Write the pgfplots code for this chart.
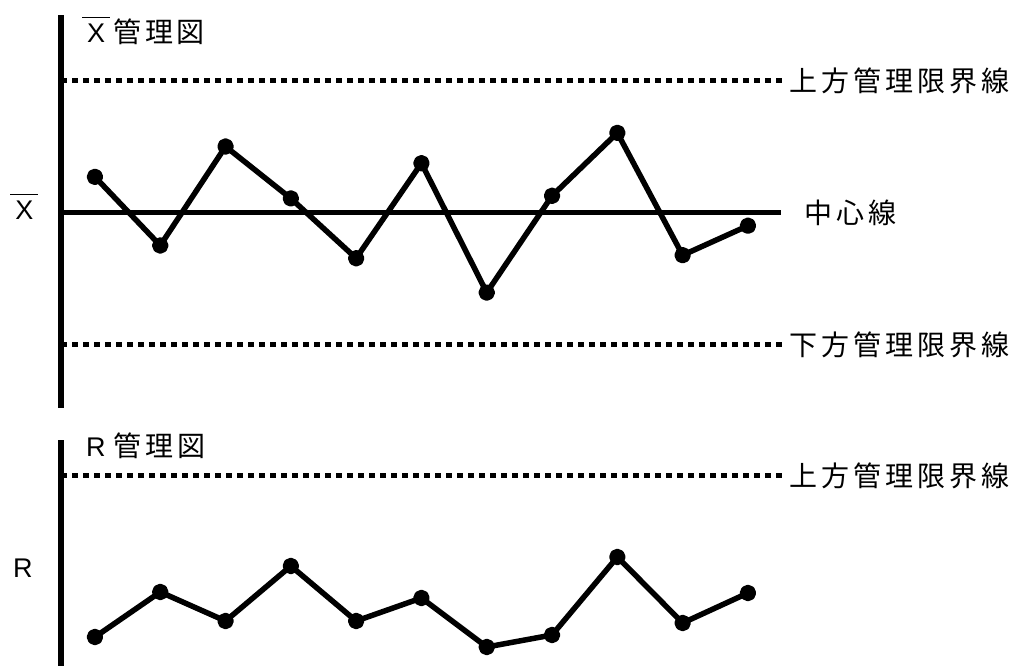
\documentclass[border=0pt]{standalone}
\usepackage{pgfplots}
\pgfplotsset{compat=1.18}
\usepackage{fontspec}
\setmainfont{Noto Sans CJK JP}
\newfontfamily\jp[LetterSpace=14]{Noto Sans CJK JP}
\newfontfamily\lat{Liberation Sans}

% X with a bar over it
\newcommand\xbar{\vbox{\hrule height 1.7bp\kern 5bp\hbox{\kern 5bp{\lat\fontsize{27bp}{30bp}\selectfont X}\kern 5bp}}}
\newcommand\rr{{\lat\fontsize{27bp}{30bp}\selectfont R}}

\pgfplotsset{
  chart/.style={
    scale only axis,
    width=719.6bp,
    xmin=0.48, xmax=11.5,
    axis x line=none,
    axis y line=left,
    y axis line style={-, line width=5.5bp},
    xtick=\empty, ytick=\empty,
    clip=false,
  },
  series/.style={
    black, line width=5.5bp, line join=round,
    mark=*, mark size=5.5bp, mark options={draw=none, fill=black},
  },
  limit/.style={
    black, line width=5bp, dash pattern=on 6bp off 5bp,
  },
}
\tikzset{lbl/.style={inner sep=0pt, font=\jp\fontsize{28bp}{32bp}\selectfont}}

\pgfplotstableread{
n xbar
1 0.81
2 -0.75
3 1.50
4 0.32
5 -1.04
6 1.12
7 -1.82
8 0.38
9 1.81
10 -0.97
11 -0.30
}\xbartable

\pgfplotstableread{
n r
1 2.9
2 7.4
3 4.5
4 10.0
5 4.5
6 6.8
7 1.9
8 3.1
9 10.9
10 4.3
11 7.3
}\rtable

\begin{document}
\begin{tikzpicture}
\useasboundingbox (0,0) rectangle (1019bp,666bp);

% X-bar chart
\begin{axis}[chart, height=393bp, ymin=-4.443, ymax=4.489,
  at={(61bp,258bp)}, anchor=south west]
  \addplot[limit] coordinates {(0.48,3) (11.56,3)};
  \addplot[limit] coordinates {(0.48,-3) (11.56,-3)};
  \addplot[black, line width=5.5bp] coordinates {(0.48,0) (11.5,0)};
  \addplot[series] table[x=n, y=xbar] {\xbartable};
  \node[lbl, anchor=west] at (axis cs:11.64,3) {上方管理限界線};
  \node[lbl, anchor=west] at (axis cs:11.64,-3) {下方管理限界線};
  \node[lbl, anchor=west] at (axis cs:11.87,0) {中心線};
  \node[lbl, anchor=base west] at (axis cs:0.80,3.875) {\xbar\kern3bp 管理図};
  \node[lbl, anchor=base west] at (axis cs:-0.30,-0.148) {\xbar};
\end{axis}

% R chart
\begin{axis}[chart, height=226bp, ymin=0, ymax=22.6,
  at={(61bp,0bp)}, anchor=south west]
  \addplot[limit] coordinates {(0.48,19) (11.56,19)};
  \addplot[series] table[x=n, y=r] {\rtable};
  \node[lbl, anchor=west] at (axis cs:11.64,19) {上方管理限界線};
  \node[lbl, anchor=base west] at (axis cs:0.86,20.9) {\rr\kern8bp 管理図};
  \node[lbl, anchor=base west] at (axis cs:-0.256,8.8) {\rr};
\end{axis}
\end{tikzpicture}
\end{document}
